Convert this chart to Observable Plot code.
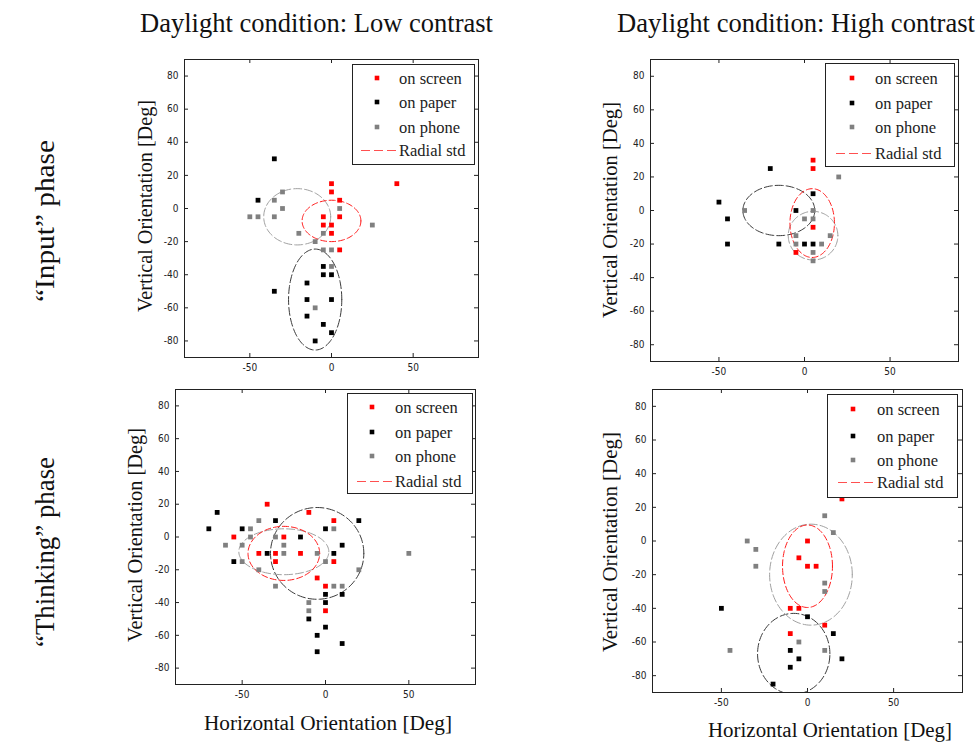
<!DOCTYPE html>
<html><head><meta charset="utf-8">
<script src="https://cdn.jsdelivr.net/npm/d3@7"></script>
<script src="https://cdn.jsdelivr.net/npm/@observablehq/plot@0.6"></script>
<style>
body{margin:0;background:#fff}
#root{position:relative;width:978px;height:744px;overflow:hidden;background:#fff}
.abs{position:absolute;display:block}
</style>
</head><body><div id="root"></div>
<script>
// ---- data ----
const xTicks = [-50, 0, 50];
const yTicks = [-80, -60, -40, -20, 0, 20, 40, 60, 80];
const devices = ["screen", "paper", "phone"];
const legendLabels = ["on screen", "on paper", "on phone", "Radial std"];
const colTitles = ["Daylight condition: Low contrast", "Daylight condition: High contrast"];
const rowTitles = ["\u201CInput\u201D phase", "\u201CThinking\u201D phase"];
const yTitle = "Vertical Orientation [Deg]";
const xTitle = "Horizontal Orientation [Deg]";

// Input phase, low contrast
const inputLowScreen = [[0,15],[0,10],[5,5],[-5,-5],[5,-5],[-5,-10],[0,-10],[0,-15],[5,-25],[40,15]];
const inputLowPaper = [[-35,30],[-45,5],[-35,-50],[-5,-35],[-5,-40],[0,-40],[-15,-45],[-15,-55],[0,-55],[-15,-65],[-5,-70],[0,-75],[-10,-80]];
const inputLowPhone = [[-30,10],[-35,5],[-30,0],[-50,-5],[-45,-5],[-35,-5],[-20,-15],[-5,-15],[-10,-20],[-5,-25],[0,-25],[5,0],[25,-10],[0,-35],[-10,-60]];
// [device, centerX, centerY, stdX, stdY]
const inputLowStd = [["phone",-21,-5,20.5,17],["paper",-10,-55,16.3,30.5],["screen",0,-7.5,18,12.5]];

// Input phase, high contrast
const inputHighScreen = [[5,30],[5,25],[5,-10],[-5,-25]];
const inputHighPaper = [[-50,5],[-45,-5],[-45,-20],[-20,25],[-5,0],[5,10],[-15,-20],[0,-20],[5,-20]];
const inputHighPhone = [[-35,0],[5,0],[0,-5],[5,-5],[-5,-15],[-5,-20],[10,-20],[15,-15],[5,-25],[5,-30],[20,20]];
const inputHighStd = [["paper",-15,0,21,15],["phone",5,-15,14.5,14.5],["screen",4.5,-7.5,13,20.5]];

// Thinking phase, low contrast
const thinkLowScreen = [[-35,20],[-55,0],[-40,-10],[-30,-10],[-30,-15],[-25,0],[-15,-10],[-10,15],[5,10],[5,-15],[-5,-25],[0,-30],[0,-45]];
const thinkLowPaper = [[-70,5],[-65,15],[-55,-15],[-50,5],[-35,-10],[-30,10],[-15,0],[0,5],[5,-10],[10,-5],[20,10],[0,-35],[0,-40],[10,-35],[-10,-50],[0,-55],[-5,-60],[10,-65],[-5,-70]];
const thinkLowPhone = [[-60,-5],[-50,-5],[-50,-15],[-45,5],[-45,0],[-40,10],[-40,-20],[-30,0],[-30,-30],[-25,-5],[-25,-10],[-5,-10],[0,-15],[5,5],[5,-30],[10,-30],[20,-20],[-10,-40],[-10,-45],[50,-10]];
const thinkLowStd = [["paper",-5,-10,28,28],["phone",-25,-9,27,14],["screen",-25,-10,21.5,16.5]];

// Thinking phase, high contrast
const thinkHighScreen = [[0,0],[-5,-10],[0,-15],[5,-15],[-10,-40],[-5,-40],[10,-50],[-10,-55],[20,25]];
const thinkHighPaper = [[-50,-40],[0,-45],[15,-55],[-10,-65],[-5,-70],[20,-70],[-10,-75],[-20,-85]];
const thinkHighPhone = [[-35,0],[-30,-5],[-30,-15],[10,15],[15,5],[10,-25],[10,-30],[-5,-60],[10,-65],[-45,-65]];
const thinkHighStd = [["paper",-8,-67,21,24],["phone",2,-20,24,30],["screen",0,-15,14.5,24.5]];

// ---- styles ----
const dotColor = {screen:"#ff0000", paper:"#000000", phone:"#808080"};
const ellColor = {screen:"#ff1a1a", paper:"#3a3a3a", phone:"#a0a0a0"};
const ellDash = {screen:"6,3", paper:"8,3", phone:"8,3"};

// ---- layout ----
const panels = [
  {frame:[184,59,478,357], screen:inputLowScreen, paper:inputLowPaper, phone:inputLowPhone, std:inputLowStd,
   legend:{box:[352,64,122,100], mx:25, tx:47, line:[9,45], rows:[14,38,63,86]}, ylab:[146,206,212]},
  {frame:[650,59,958,361], screen:inputHighScreen, paper:inputHighPaper, phone:inputHighPhone, std:inputHighStd,
   legend:{box:[825,63,129,103], mx:27, tx:50, line:[11,47], rows:[15,40,64,90]}, ylab:[611,210,216]},
  {frame:[175,389,475,684], screen:thinkLowScreen, paper:thinkLowPaper, phone:thinkLowPhone, std:thinkLowStd,
   legend:{box:[347,393,125,100], mx:25, tx:48, line:[10,46], rows:[14,39,63,88]}, ylab:[136,535,214], xlab:[328,730,248]},
  {frame:[652,389,962,692], screen:thinkHighScreen, paper:thinkHighPaper, phone:thinkHighPhone, std:thinkHighStd,
   legend:{box:[827,394,130,103], mx:26, tx:50, line:[11,46], rows:[15,42,66,88]}, ylab:[611,542,220], xlab:[830,737,244]}
];

const root = document.getElementById("root");
const fmt = d => String(d);

function drawPanel(cfg) {
  const [L,T,R,B] = cfg.frame;
  const fw = R-L, fh = B-T;
  const mL = 40, mR = 2, mT = 2, mB = 26;
  const pts = [];
  devices.forEach(dev => cfg[dev].forEach(([x,y]) => pts.push({x, y, dev})));
  const ellMarks = cfg.std.map(([dev,cx,cy,sx,sy]) => {
    const ring = d3.range(0, 121).map(i => {
      const t = 2*Math.PI*i/120;
      return {x: cx + sx*Math.cos(t), y: cy + sy*Math.sin(t)};
    });
    return Plot.line(ring, {x:"x", y:"y", stroke: ellColor[dev], strokeWidth: 1, strokeDasharray: ellDash[dev], clip: true});
  });
  const plot = Plot.plot({
    width: fw+mL+mR, height: fh+mT+mB,
    marginLeft: mL, marginRight: mR, marginTop: mT, marginBottom: mB,
    x: {domain: [-90, 90]}, y: {domain: [-90, 90]},
    style: {fontFamily: "'DejaVu Sans Condensed','DejaVu Sans',sans-serif", fontSize: "10px", color: "#222", background: "transparent", overflow: "visible"},
    marks: [
      Plot.axisX(xTicks, {tickSize: 0, tickPadding: 6, tickFormat: fmt, label: null}),
      Plot.axisY(yTicks, {tickSize: 0, tickPadding: 6, tickFormat: fmt, label: null}),
      Plot.tickY(yTicks, {y: d => d, insetRight: fw-4, stroke: "#222"}),
      Plot.tickY(yTicks, {y: d => d, insetLeft: fw-4, stroke: "#222"}),
      Plot.tickX(xTicks, {x: d => d, insetBottom: fh-4, stroke: "#222"}),
      Plot.tickX(xTicks, {x: d => d, insetTop: fh-4, stroke: "#222"}),
      ...ellMarks,
      Plot.dot(pts, {x: "x", y: "y", fill: d => dotColor[d.dev], symbol: "square", r: 2.7}),
      Plot.frame({stroke: "#222"})
    ]
  });
  plot.classList.add("abs");
  plot.style.left = (L - mL) + "px";
  plot.style.top = (T - mT) + "px";
  root.appendChild(plot);

  // legend
  const lg = cfg.legend;
  const [bx,by,bw,bh] = lg.box;
  const svg = d3.select(root).append("svg").attr("class","abs")
    .style("left", bx+"px").style("top", by+"px").attr("width", bw+1).attr("height", bh+1);
  svg.append("rect").attr("x",0.5).attr("y",0.5).attr("width",bw).attr("height",bh)
    .attr("fill","#fff").attr("stroke","#222");
  devices.forEach((dev,i) => {
    svg.append("rect").attr("x", lg.mx-2.3).attr("y", lg.rows[i]-2.3).attr("width",4.6).attr("height",4.6).attr("fill", dotColor[dev]);
  });
  svg.append("line").attr("x1", lg.line[0]).attr("x2", lg.line[1]).attr("y1", lg.rows[3]+0.5).attr("y2", lg.rows[3]+0.5)
    .attr("stroke","#ff5050").attr("stroke-width",1.2).attr("stroke-dasharray","9,4");
  legendLabels.forEach((t,i) => {
    svg.append("text").attr("x", lg.tx).attr("y", lg.rows[i]+5.5).text(t)
      .attr("font-family","'Liberation Serif',serif").attr("font-size","16.5px").attr("fill","#222");
  });
}
panels.forEach(drawPanel);

// titles / labels overlay
const ov = d3.select(root).append("svg").attr("class","abs").style("left","0px").style("top","0px")
  .attr("width",978).attr("height",744).style("pointer-events","none");
const serif = "'Liberation Serif','Times New Roman',serif";
[[140,32,353],[617,32,358]].forEach(([x,y,len],i) => {
  ov.append("text").attr("x",x).attr("y",y).text(colTitles[i]).attr("font-family",serif)
    .attr("font-size","26.5px").attr("fill","#111").attr("textLength",len).attr("lengthAdjust","spacingAndGlyphs");
});
[[45,221,162],[45,552,190]].forEach(([x,y,len],i) => {
  ov.append("text").attr("transform",`translate(${x},${y}) rotate(-90)`).attr("text-anchor","middle").attr("dy","0.32em")
    .text(rowTitles[i]).attr("font-family",serif).attr("font-size","28px").attr("fill","#111")
    .attr("textLength",len).attr("lengthAdjust","spacingAndGlyphs");
});
panels.forEach(p => {
  const [x,y,len] = p.ylab;
  ov.append("text").attr("transform",`translate(${x},${y}) rotate(-90)`).attr("text-anchor","middle").attr("dy","0.32em")
    .text(yTitle).attr("font-family",serif).attr("font-size","20px").attr("fill","#111")
    .attr("textLength",len).attr("lengthAdjust","spacingAndGlyphs");
  if (p.xlab) {
    const [cx,by,l2] = p.xlab;
    ov.append("text").attr("x",cx).attr("y",by).attr("text-anchor","middle")
      .text(xTitle).attr("font-family",serif).attr("font-size","20px").attr("fill","#111")
      .attr("textLength",l2).attr("lengthAdjust","spacingAndGlyphs");
  }
});
</script></body></html>
